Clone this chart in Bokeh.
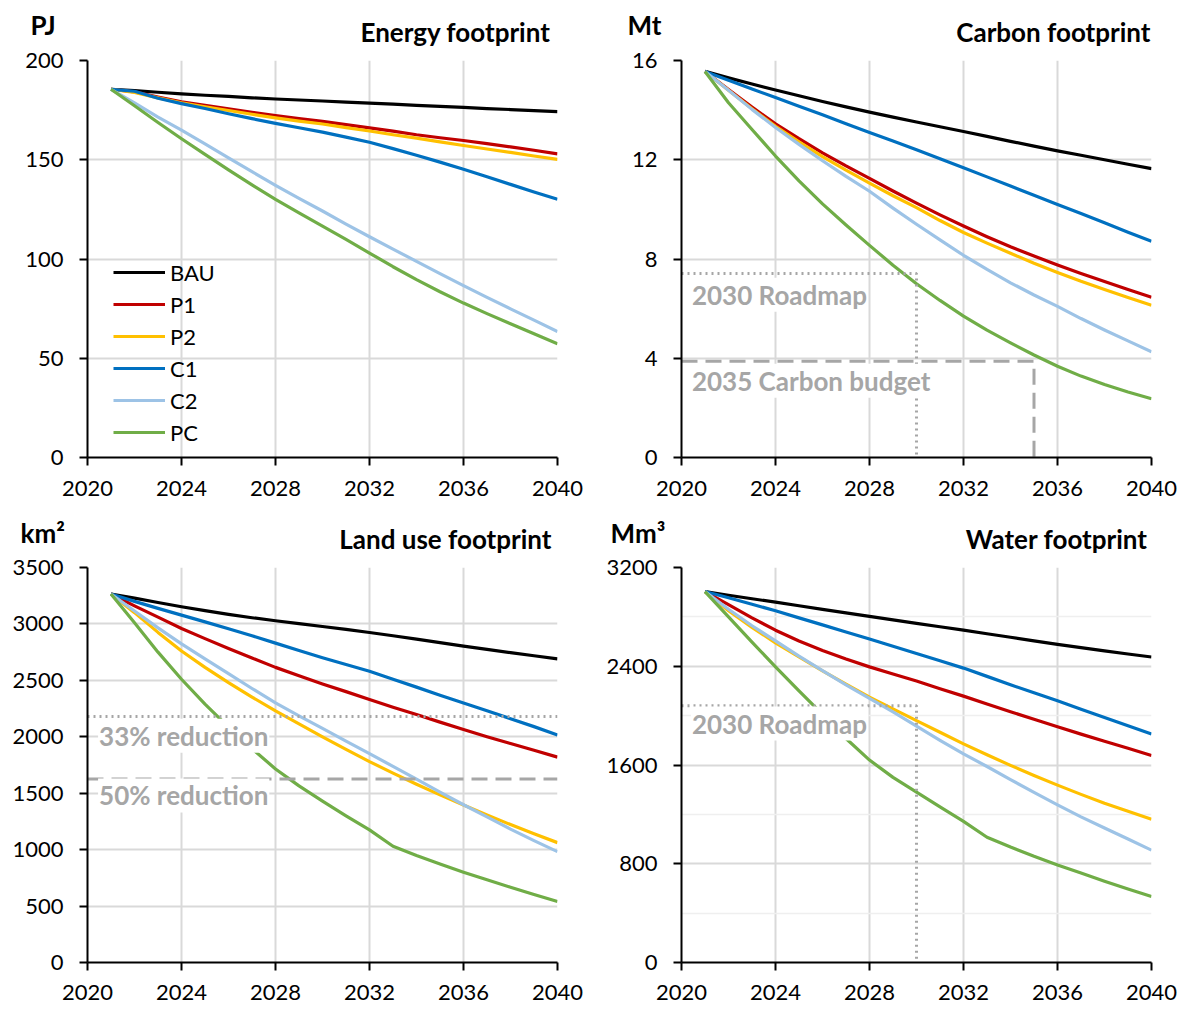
from bokeh.plotting import figure
from bokeh.layouts import column, row
from bokeh.models import Range1d, FixedTicker, Label, Legend, LegendItem
from bokeh.embed import file_html
from bokeh.resources import INLINE

FONT = "Lato"

years = list(range(2021, 2041))
x_ticks = [2020, 2024, 2028, 2032, 2036, 2040]
series_names = ["BAU", "P1", "P2", "C1", "C2", "PC"]
series_colors = ["#000000", "#c00000", "#ffc000", "#0070c0", "#9dc3e6", "#70ad47"]

# ---- Energy footprint (PJ)
energy_bau = [185.5, 184.8, 184.0, 183.2, 182.5, 181.9, 181.2, 180.6, 180.1, 179.6,
              179.0, 178.5, 178.0, 177.4, 176.9, 176.4, 175.8, 175.3, 174.7, 174.2]
energy_p1 = [185.5, 184.2, 181.6, 179.2, 177.4, 175.6, 173.9, 172.2, 170.7, 169.3,
             167.7, 166.1, 164.4, 162.6, 161.1, 159.7, 158.1, 156.5, 154.8, 153.0]
energy_p2 = [185.5, 183.9, 181.2, 178.7, 176.7, 174.8, 172.9, 171.1, 169.5, 168.0,
             166.2, 164.5, 162.6, 160.9, 159.0, 157.2, 155.4, 153.7, 151.9, 150.2]
energy_c1 = [185.5, 184.5, 181.0, 178.3, 175.8, 173.2, 170.7, 168.3, 166.1, 163.9,
             161.4, 158.8, 155.6, 152.3, 148.8, 145.2, 141.4, 137.6, 133.8, 130.1]
energy_c2 = [185.5, 178.6, 171.5, 164.9, 158.0, 151.0, 144.0, 137.1, 130.5, 124.2,
             117.6, 111.2, 105.0, 98.8, 92.6, 86.6, 80.7, 74.9, 69.2, 63.5]
energy_pc = [185.5, 177.2, 168.8, 160.6, 152.7, 144.9, 137.3, 130.0, 123.2, 116.6,
             109.9, 103.0, 96.1, 89.6, 83.5, 77.8, 72.5, 67.4, 62.3, 57.3]
energy_ticks = [0, 50, 100, 150, 200]

# ---- Carbon footprint (Mt)
carbon_bau = [15.56, 15.30, 15.05, 14.81, 14.58, 14.35, 14.13, 13.92, 13.72, 13.52,
              13.33, 13.14, 12.94, 12.74, 12.55, 12.36, 12.18, 12.00, 11.82, 11.64]
carbon_p1 = [15.56, 14.83, 14.12, 13.45, 12.85, 12.28, 11.75, 11.25, 10.74, 10.25,
             9.78, 9.33, 8.90, 8.49, 8.12, 7.76, 7.42, 7.09, 6.77, 6.46]
carbon_p2 = [15.56, 14.80, 14.06, 13.35, 12.72, 12.13, 11.58, 11.06, 10.55, 10.07,
             9.55, 9.07, 8.64, 8.23, 7.83, 7.46, 7.10, 6.77, 6.45, 6.14]
carbon_c1 = [15.56, 15.20, 14.85, 14.51, 14.16, 13.81, 13.45, 13.10, 12.76, 12.40,
             12.04, 11.68, 11.31, 10.94, 10.57, 10.20, 9.83, 9.46, 9.08, 8.71]
carbon_c2 = [15.56, 14.80, 14.03, 13.30, 12.62, 11.96, 11.33, 10.73, 10.05, 9.40,
             8.77, 8.15, 7.58, 7.04, 6.55, 6.09, 5.60, 5.14, 4.70, 4.26]
carbon_pc = [15.56, 14.30, 13.22, 12.15, 11.15, 10.22, 9.37, 8.55, 7.75, 7.00,
             6.33, 5.70, 5.13, 4.62, 4.13, 3.68, 3.28, 2.94, 2.64, 2.37]
carbon_ticks = [0, 4, 8, 12, 16]
carbon_roadmap_year = 2030
carbon_roadmap_value = 7.42
carbon_budget_year = 2035
carbon_budget_value = 3.88

# ---- Land use footprint (km2)
land_bau = [3265, 3228, 3190, 3152, 3118, 3085, 3055, 3028, 3002, 2977,
            2951, 2924, 2895, 2865, 2834, 2804, 2775, 2746, 2718, 2690]
land_p1 = [3265, 3160, 3060, 2960, 2870, 2782, 2698, 2615, 2540, 2468,
           2400, 2330, 2262, 2197, 2130, 2064, 2000, 1940, 1880, 1820]
land_p2 = [3265, 3100, 2925, 2760, 2615, 2480, 2352, 2230, 2115, 2000,
           1888, 1780, 1678, 1580, 1485, 1395, 1308, 1222, 1140, 1062]
land_c1 = [3265, 3200, 3138, 3078, 3018, 2958, 2895, 2830, 2765, 2700,
           2640, 2580, 2510, 2440, 2368, 2300, 2230, 2160, 2090, 2015]
land_c2 = [3265, 3115, 2965, 2823, 2690, 2560, 2428, 2300, 2185, 2075,
           1962, 1850, 1738, 1625, 1510, 1398, 1290, 1182, 1080, 982]
land_pc = [3265, 3010, 2750, 2510, 2290, 2085, 1895, 1715, 1565, 1430,
           1300, 1175, 1030, 948, 872, 800, 733, 667, 603, 540]
land_ticks = [0, 500, 1000, 1500, 2000, 2500, 3000, 3500]
land_33_value = 2179
land_50_value = 1627

# ---- Water footprint (Mm3)
water_bau = [3005, 2975, 2947, 2919, 2890, 2861, 2832, 2804, 2776, 2748,
             2720, 2692, 2663, 2635, 2606, 2577, 2551, 2524, 2499, 2475]
water_p1 = [3005, 2900, 2792, 2692, 2605, 2528, 2458, 2395, 2337, 2280,
            2218, 2158, 2095, 2032, 1970, 1910, 1850, 1792, 1735, 1677]
water_p2 = [3005, 2850, 2715, 2590, 2475, 2362, 2255, 2150, 2055, 1960,
            1865, 1771, 1683, 1597, 1515, 1437, 1362, 1290, 1225, 1160]
water_c1 = [3005, 2955, 2902, 2850, 2792, 2735, 2678, 2620, 2562, 2503,
            2444, 2385, 2318, 2250, 2185, 2120, 2052, 1985, 1918, 1851]
water_c2 = [3005, 2862, 2728, 2605, 2482, 2365, 2250, 2140, 2030, 1915,
            1800, 1690, 1588, 1482, 1378, 1277, 1180, 1090, 1000, 910]
water_pc = [3005, 2800, 2595, 2395, 2200, 2010, 1815, 1640, 1500, 1380,
            1260, 1143, 1015, 935, 860, 790, 725, 658, 595, 534]
water_ticks = [0, 800, 1600, 2400, 3200]
water_minor_ticks = [400, 1200, 2000, 2800]
water_roadmap_year = 2030
water_roadmap_value = 2080

GRID_COLOR = "#d9d9d9"
ANNOT_COLOR = "#a6a6a6"
TITLE_SIZE = "26px"


def make_panel(series, ymax, yticks, borders, frame_h, x_standoff,
               minor=None, legend=False):
    bl, br, bt, bb = borders
    p = figure(frame_width=470, frame_height=frame_h,
               x_range=Range1d(2020, 2040), y_range=Range1d(0, ymax),
               output_backend="svg", toolbar_location=None,
               min_border_left=bl, min_border_right=br,
               min_border_top=bt, min_border_bottom=bb,
               background_fill_color="white", border_fill_color="white",
               outline_line_color=None)
    p.xaxis.ticker = FixedTicker(ticks=x_ticks)
    if minor:
        p.yaxis.ticker = FixedTicker(ticks=yticks, minor_ticks=minor)
    else:
        p.yaxis.ticker = FixedTicker(ticks=yticks)
    for ax in (p.xaxis, p.yaxis):
        ax.axis_line_color = "black"
        ax.axis_line_width = 2
        ax.major_tick_line_color = "black"
        ax.major_tick_line_width = 2
        ax.major_tick_out = 8
        ax.major_tick_in = 0
        ax.minor_tick_line_color = None
        ax.major_label_text_font = FONT
        ax.major_label_text_font_size = "22px"
        ax.major_label_text_color = "black"
    p.xaxis.major_label_standoff = x_standoff
    p.yaxis.major_label_standoff = 16
    p.grid.grid_line_color = GRID_COLOR
    p.grid.grid_line_width = 2
    if minor:
        p.ygrid.minor_grid_line_color = "#efefef"
        p.ygrid.minor_grid_line_width = 1.5

    renderers = []
    for name, color, vals in zip(series_names, series_colors, series):
        r = p.line(years, vals, line_color=color, line_width=3.2, line_join="round")
        renderers.append((name, r))

    if legend:
        lg = Legend(items=[LegendItem(label=n, renderers=[r]) for n, r in renderers],
                    location=(26, 9), padding=0, margin=0, spacing=0,
                    glyph_width=52, glyph_height=32, label_height=32,
                    label_standoff=5, label_text_font=FONT,
                    label_text_font_size="22px", label_text_color="black",
                    background_fill_alpha=0, border_line_alpha=0)
        p.add_layout(lg, "center")
    return p


def note(p, x, y, text):
    p.add_layout(Label(x=x, y=y, text=text, text_font=FONT, text_font_style="bold",
                       text_font_size="26px", text_color=ANNOT_COLOR,
                       text_align="left", text_baseline="middle",
                       background_fill_color="white", padding=1))


def header(height, texts):
    h = figure(width=1180, height=height, x_range=Range1d(0, 1180), y_range=Range1d(0, height),
               output_backend="svg", toolbar_location=None,
               x_axis_location=None, y_axis_location=None,
               min_border_left=0, min_border_right=0, min_border_top=0, min_border_bottom=0,
               outline_line_color=None, background_fill_color="white",
               border_fill_color="white")
    h.grid.visible = False
    for x, y, txt, align in texts:
        h.add_layout(Label(x=x, y=y, text=txt, text_font=FONT, text_font_style="bold",
                           text_font_size=TITLE_SIZE, text_color="black",
                           text_align=align, text_baseline="alphabetic"))
    return h


p_energy = make_panel([energy_bau, energy_p1, energy_p2, energy_c1, energy_c2, energy_pc],
                      200, energy_ticks, (87, 33, 13, 50), 397, 15, legend=True)

p_carbon = make_panel([carbon_bau, carbon_p1, carbon_p2, carbon_c1, carbon_c2, carbon_pc],
                      16, carbon_ticks, (91, 29, 13, 50), 397, 15)
p_carbon.line([2020, carbon_roadmap_year, carbon_roadmap_year],
              [carbon_roadmap_value, carbon_roadmap_value, 0],
              line_color=ANNOT_COLOR, line_width=3, line_dash="2 4")
p_carbon.line([2020, carbon_budget_year, carbon_budget_year],
              [carbon_budget_value, carbon_budget_value, 0],
              line_color=ANNOT_COLOR, line_width=3, line_dash="16 8")
note(p_carbon, 2020.4, 6.56, "2030 Roadmap")
note(p_carbon, 2020.4, 3.09, "2035 Carbon budget")

p_land = make_panel([land_bau, land_p1, land_p2, land_c1, land_c2, land_pc],
                    3500, land_ticks, (87, 33, 13, 48), 395, 14)
p_land.line([2020, 2040], [land_33_value, land_33_value],
            line_color=ANNOT_COLOR, line_width=3, line_dash="2 4")
p_land.line([2020, 2040], [land_50_value, land_50_value],
            line_color=ANNOT_COLOR, line_width=3, line_dash="16 8")
note(p_land, 2020.45, 2010, "33% reduction")
note(p_land, 2020.45, 1480, "50% reduction")

p_water = make_panel([water_bau, water_p1, water_p2, water_c1, water_c2, water_pc],
                     3200, water_ticks, (91, 29, 13, 48), 395, 14, minor=water_minor_ticks)
p_water.line([2020, water_roadmap_year, water_roadmap_year],
             [water_roadmap_value, water_roadmap_value, 0],
             line_color=ANNOT_COLOR, line_width=3, line_dash="2 4")
note(p_water, 2020.4, 1936, "2030 Roadmap")

head_top = header(47, [(30, 23, "PJ", "left"), (550, 16, "Energy footprint", "right"),
                       (627, 23, "Mt", "left"), (1150, 16, "Carbon footprint", "right")])
head_bottom = header(47, [(20, 22, "km²", "left"), (551, 16, "Land use footprint", "right"),
                          (610, 22, "Mm³", "left"), (1147, 16, "Water footprint", "right")])

layout = column(head_top, row(p_energy, p_carbon), head_bottom, row(p_land, p_water))

open("out.html", "w").write(file_html(layout, INLINE))
